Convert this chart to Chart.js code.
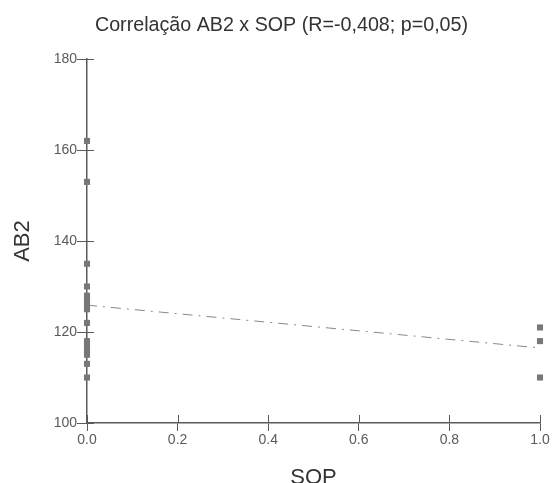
<!DOCTYPE html>
<html>
<head>
<meta charset="utf-8">
<script src="https://cdn.jsdelivr.net/npm/chart.js@4"></script>
<style>
  html, body { margin: 0; padding: 0; background: #fff; }
  #wrap { width: 553px; height: 483px; }
</style>
</head>
<body>
<div id="wrap"><canvas id="chart" width="553" height="483"></canvas></div>
<script>
// valores
const sopZero = [162, 153, 135, 130, 128, 127, 126, 125, 122, 118, 117, 116, 115, 113, 110];
const sopOne = [121, 118, 110];
const regX = [0, 1];
const regY = [125.9, 116.5];
const xTicks = [0, 0.2, 0.4, 0.6, 0.8, 1.0];
const yTicks = [100, 120, 140, 160, 180];

const AXIS = '#5a5a5a';
const FONT = 'Liberation Sans';

// ticks cruzando o eixo (parte interna)
const innerTicks = {
    id: 'innerTicks',
    afterDraw(chart) {
        const ctx = chart.ctx;
        const x = chart.scales.x, y = chart.scales.y;
        ctx.save();
        ctx.strokeStyle = AXIS;
        ctx.lineWidth = 1;
        ctx.beginPath();
        yTicks.forEach(v => {
            const py = Math.round(y.getPixelForValue(v)) + 0.5;
            ctx.moveTo(x.left, py);
            ctx.lineTo(x.left + 7, py);
        });
        xTicks.forEach(v => {
            const px = Math.round(x.getPixelForValue(v)) + 0.5;
            ctx.moveTo(px, y.bottom);
            ctx.lineTo(px, y.bottom - 8);
        });
        ctx.stroke();
        ctx.restore();
    }
};

new Chart(document.getElementById('chart').getContext('2d'), {
    type: 'scatter',
    data: {
        datasets: [
            {
                data: sopZero.map(v => ({ x: 0, y: v })).concat(sopOne.map(v => ({ x: 1, y: v }))),
                pointStyle: 'rect',
                pointRadius: 4.3,
                backgroundColor: '#777',
                borderWidth: 0,
                clip: false
            },
            {
                type: 'line',
                data: regX.map((x, i) => ({ x: x, y: regY[i] })),
                borderColor: '#888',
                borderWidth: 1,
                borderDash: [10, 6, 2, 6],
                pointRadius: 0,
                fill: false
            }
        ]
    },
    options: {
        responsive: false,
        animation: false,
        layout: { padding: { left: 23, right: 13, top: 0, bottom: 0 } },
        plugins: {
            legend: { display: false },
            tooltip: { enabled: false },
            title: {
                display: true,
                text: 'Correlação AB2 x SOP (R=-0,408; p=0,05)',
                color: '#333',
                font: { family: FONT, size: 19.7, weight: 'normal' },
                padding: { top: 14, bottom: 21.4 }
            }
        },
        scales: {
            x: {
                type: 'linear',
                min: 0, max: 1,
                afterBuildTicks: s => { s.ticks = xTicks.map(v => ({ value: v })); },
                afterFit: s => { s.height = 60; },
                ticks: {
                    color: AXIS,
                    font: { family: FONT, size: 14 },
                    padding: 1,
                    callback: v => Number(v).toFixed(1)
                },
                grid: { drawOnChartArea: false, tickLength: 8, color: AXIS },
                border: { color: AXIS, width: 1.5 },
                title: {
                    display: true,
                    text: 'SOP',
                    color: '#333',
                    font: { family: FONT, size: 22 },
                    padding: { top: 0, bottom: -8 }
                }
            },
            y: {
                min: 100, max: 180,
                afterBuildTicks: s => { s.ticks = yTicks.map(v => ({ value: v })); },
                afterFit: s => { s.width = 64; },
                ticks: {
                    color: AXIS,
                    font: { family: FONT, size: 14 },
                    padding: 0
                },
                grid: { drawOnChartArea: false, tickLength: 10, color: AXIS },
                border: { color: AXIS, width: 1.5 },
                title: {
                    display: true,
                    text: 'AB2',
                    color: '#333',
                    font: { family: FONT, size: 22 },
                    padding: { top: -13.7, bottom: 0 }
                }
            }
        }
    },
    plugins: [innerTicks]
});
</script>
</body>
</html>
